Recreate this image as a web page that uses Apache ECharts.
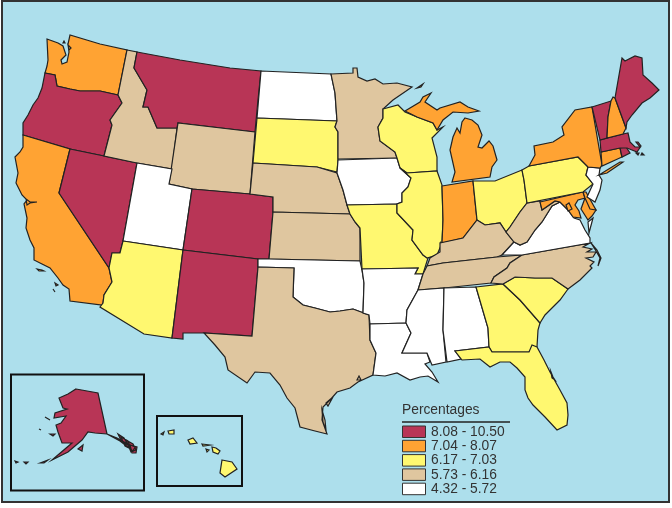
<!DOCTYPE html>
<html>
<head>
<meta charset="utf-8">
<title>Percentages by state</title>
<style>
html,body{margin:0;padding:0;background:#fff;}
#main{width:672px;height:508px;}
</style>
<script src="https://cdn.jsdelivr.net/npm/echarts@6/dist/echarts.min.js"></script>
</head>
<body>
<div id="main"></div>
<script>
/* values per state, estimated from the colour class of each state */
var stateNames = ['Oregon','Montana','Nevada','Colorado','New Mexico','Vermont','Maine','Massachusetts','Rhode Island','Alaska',
	'Washington','California','New York','New Hampshire','Connecticut','Michigan','Indiana','Maryland','Delaware','District of Columbia',
	'Arizona','South Dakota','Wisconsin','Illinois','Missouri','Ohio','Pennsylvania','Georgia','South Carolina','Florida','Hawaii',
	'Idaho','Wyoming','Nebraska','Kansas','Texas','Minnesota','Kentucky','Tennessee','North Carolina','West Virginia',
	'Utah','North Dakota','Iowa','Oklahoma','Arkansas','Louisiana','Mississippi','Alabama','Virginia','New Jersey'];
var stateValues = [8.9,8.5,9.2,8.3,8.6,8.4,9.6,8.2,10.5,8.8,
	7.6,7.3,7.5,7.2,7.4,7.8,7.1,7.7,7.3,8.0,
	6.6,6.3,6.8,6.9,6.5,6.7,6.4,6.2,6.6,6.9,6.3,
	5.9,5.8,6.0,5.9,6.1,6.0,5.8,5.9,6.0,5.8,
	5.2,4.9,5.4,5.5,5.1,5.6,4.6,5.3,5.7,4.32];
var classLabels = ['8.08 - 10.50','7.04 - 8.07','6.17 - 7.03','5.73 - 6.16','4.32 - 5.72'];
var classMin = [8.08,7.04,6.17,5.73,4.32];
var classMax = [10.50,8.07,7.03,6.16,5.72];
var classColors = ['#b83556','#ffa333','#fff870','#dfc69f','#ffffff'];

/* hand traced state outlines, flat x,y lists in page pixels, one list per island */
var outlines = {
	'Washington':[[47,39,58,43,63,46,66,55,61,60,62,64,67,62,69,52,68,44,70,35,100,44,127,50,118,95,100,91,80,91,70,89,57,86,55,75,45,73,47,66,48,60],[64,41,65,43,63,43],[68,45,71,48,69,50]],
	'Oregon':[[45,73,55,75,57,86,70,89,80,91,100,91,118,95,122,103,110,120,112,125,104,156,70,149,23,135,23,123,28,115,33,105,38,98,42,88]],
	'California':[[23,135,70,149,59,193,109,268,112,282,104,295,103,303,102,305,70,301,69,289,63,285,58,278,50,268,42,264,34,260,34,248,30,240,26,228,27,218,24,204,27,200,22,195,16,183,18,173,15,157,20,152,23,147],[37,269,42,270,44,271,39,271],[55,283,58,285,56,286],[53,289,55,292,54,293],[26,199,30,202,37,202,30,203,27,205]],
	'Nevada':[[70,149,104,156,137,163,123,241,120,253,112,253,109,268,59,193]],
	'Idaho':[[127,50,137,52,134,68,147,90,143,107,148,107,157,128,177,128,172,169,137,163,104,156,112,125,110,120,122,103,118,95]],
	'Montana':[[137,52,180,60,230,68,261,71,258,100,255,132,178,123,177,128,157,128,148,107,143,107,147,90,134,68]],
	'Wyoming':[[178,123,255,132,250,194,192,189,169,184]],
	'Utah':[[137,163,172,169,169,184,192,189,183,250,123,241]],
	'Colorado':[[192,189,250,194,273,197,273,212,269,259,258,259,183,250]],
	'Arizona':[[123,241,183,250,172,338,144,334,100,307,103,303,104,295,112,282,109,268,112,253,120,253]],
	'New Mexico':[[183,250,258,259,258,267,252,336,204,333,183,333,183,339,172,338]],
	'North Dakota':[[261,71,331,74,335,93,337,121,257,118]],
	'South Dakota':[[257,118,337,121,335,127,338,132,338,160,337,172,317,167,253,163]],
	'Nebraska':[[253,163,317,167,337,173,343,190,347,205,350,214,273,212,273,197,250,194]],
	'Kansas':[[273,212,350,214,355,222,360,228,360,261,269,259]],
	'Oklahoma':[[258,259,269,259,360,261,362,270,364,283,363,313,369,315,353,309,340,311,330,312,315,308,303,305,293,297,294,268,258,267]],
	'Texas':[[258,267,294,268,293,297,303,305,315,308,330,312,340,311,353,309,369,315,370,340,376,353,373,375,358,382,350,388,337,392,330,400,323,407,322,420,327,434,315,431,300,427,295,408,287,398,280,385,270,373,255,372,247,383,228,370,225,357,215,345,204,333,252,336],[359,376,361,380,357,380],[326,403,333,397,328,406],[322,410,325,420,326,430,323,422]],
	'Minnesota':[[331,74,353,73,353,68,357,68,358,77,367,81,375,79,383,84,397,83,412,87,393,100,383,109,383,118,378,127,380,141,395,152,397,158,338,159,338,132,335,127,337,121,335,93]],
	'Iowa':[[338,160,397,158,400,168,411,178,408,187,402,193,402,202,397,204,347,205,343,190,337,173]],
	'Missouri':[[347,205,397,204,397,213,413,230,412,240,423,255,428,258,423,274,415,274,418,268,362,269,360,228,355,222,350,214]],
	'Arkansas':[[362,269,418,268,415,274,423,274,418,290,407,310,406,323,370,324,369,315,363,313,364,283]],
	'Louisiana':[[370,324,406,323,411,333,402,353,427,353,430,362,425,364,432,372,438,382,428,376,420,377,410,380,397,373,385,376,373,375,376,353,370,340]],
	'Wisconsin':[[383,109,398,105,405,112,417,117,433,123,437,130,443,127,432,138,437,157,437,171,407,173,400,168,397,158,395,152,380,141,378,127,383,118]],
	'Illinois':[[407,173,437,171,442,185,443,220,442,243,437,255,427,258,423,255,412,240,413,230,397,213,397,204,402,202,402,193,408,187,411,178,400,168]],
	'Michigan':[[405,111,420,102,423,97,431,93,425,102,437,110,440,108,460,102,468,107,479,111,468,113,453,112,443,120,437,130,433,123,417,117],[465,118,472,120,478,125,482,135,478,147,482,148,489,141,493,146,497,160,492,167,490,177,452,182,455,172,450,150,453,137,457,128,460,133,462,122],[417,88,423,84,421,87]],
	'Indiana':[[442,186,473,181,477,220,463,238,443,243,440,242,442,243,443,220]],
	'Ohio':[[473,181,495,181,522,170,524,180,527,203,520,212,510,227,506,232,500,223,485,225,477,220]],
	'Kentucky':[[427,266,430,258,440,252,440,243,463,238,477,220,485,225,500,223,506,232,514,242,502,255,497,257,443,263]],
	'Tennessee':[[418,290,423,274,427,266,443,263,497,257,522,255,510,263,507,268,494,277,491,283,444,288]],
	'Mississippi':[[418,290,444,288,443,330,446,362,432,365,427,353,402,353,411,333,406,323,407,310]],
	'Alabama':[[444,288,476,287,488,328,489,347,455,351,461,359,447,362,443,330]],
	'Georgia':[[476,287,503,284,520,300,540,323,538,330,537,347,529,352,492,352,489,347,488,328]],
	'Florida':[[455,351,489,347,492,352,529,352,532,345,537,347,544,360,550,372,560,390,567,403,568,415,567,425,557,430,545,417,533,405,528,398,525,390,525,377,517,368,510,362,500,362,490,367,480,359,462,360],[551,372,553,377,555,380,552,378]],
	'South Carolina':[[503,284,515,277,535,278,552,278,568,289,560,300,545,315,540,323,520,300]],
	'North Carolina':[[590,243,583,247,592,249,587,252,596,252,593,257,586,258,594,262,590,266,592,268,580,280,568,289,552,278,535,278,515,277,503,284,491,283,494,277,507,268,510,263,522,255],[591,243,597,250,601,258,598,266,600,258,596,251]],
	'Virginia':[[502,255,514,242,520,245,527,242,535,230,542,222,552,206,560,202,568,210,574,218,580,220,585,230,590,238,590,243,522,255],[588,222,593,218,589,233]],
	'West Virginia':[[527,203,540,201,542,210,555,201,560,202,552,206,542,222,535,230,527,242,520,245,514,242,506,232,510,227,520,212]],
	'Maryland':[[540,202,583,192,585,198,578,200,575,205,579,211,581,218,573,217,568,210,560,202,555,201,542,210],[585,198,596,210,592,216,588,220,581,209]],
	'Delaware':[[583,192,586,192,596,210,590,209,585,198]],
	'District of Columbia':[[566,205,569,203,572,209,568,211]],
	'Pennsylvania':[[522,170,529,166,578,157,588,167,586,175,593,184,583,192,527,203,524,180]],
	'New Jersey':[[588,167,600,168,599,175,602,180,600,190,595,202,587,197,593,184,586,175]],
	'New York':[[529,166,535,155,534,146,553,142,564,135,562,127,575,110,592,107,602,165,600,168,588,167,578,157],[599,175,620,162,623,162,607,173]],
	'Connecticut':[[601,152,620,148,622,157,602,166]],
	'Rhode Island':[[620,148,626,147,630,153,622,157]],
	'Massachusetts':[[600,140,623,134,628,133,630,142,635,147,640,147,636,142,638,142,641,146,637,152,632,150,627,148,620,148,601,152],[636,153,639,153,638,155],[642,153,644,155,641,155]],
	'Vermont':[[592,107,611,101,608,117,607,138,600,140]],
	'New Hampshire':[[611,101,613,97,615,98,626,128,623,134,607,138,608,117]],
	'Maine':[[615,98,622,58,625,61,635,56,642,58,643,75,652,83,659,90,650,98,642,103,632,115,627,122,626,128]],
	'Alaska':[[76,389,98,393,107,434,117,438,126,443,135,447,133,451,120,441,107,434,95,433,88,432,82,440,68,452,52,460,72,443,62,443,58,432,56,425,61,423,66,416,54,418,55,413,67,409,63,408,59,398,68,394],[118,434,124,438,128,445,122,442],[121,437,128,441,131,449,125,446],[126,440,133,444,136,450,131,452],[130,445,137,447,136,453,132,453],[78,449,83,445,82,451],[45,417,50,420,49,421],[50,434,55,434,53,436],[39,429,41,430,40,431],[40,463,48,460,44,463],[24,462,28,462,26,464],[15,461,18,462,16,463]],
	'Hawaii':[[222,460,232,462,237,469,225,477,220,473],[212,447,216,448,220,451,218,454,213,452],[188,440,193,438,197,443,190,444],[168,431,174,430,174,434,169,434],[161,434,164,432,163,435],[202,444,210,445,203,446],[206,449,209,450,207,452]]
};

function buildGeo(){
	var features = [];
	for(var name in outlines){
		var polys = outlines[name].map(function(flat){
			var ring = [];
			for(var i=0;i<flat.length;i+=2){ ring.push([flat[i],flat[i+1]]); }
			ring.push(ring[0]);
			return [ring];
		});
		features.push({type:'Feature',properties:{name:name},geometry:{type:'MultiPolygon',coordinates:polys}});
	}
	return {type:'FeatureCollection',features:features};
}

echarts.registerMap('USA', buildGeo());

var seaColor = '#addfec';
var lineColor = '#222222';
var myChart = echarts.init(document.getElementById('main'));

var mapData = stateNames.map(function(n,i){ return {name:n,value:stateValues[i]}; });
var pieces = classLabels.map(function(l,i){ return {gte:classMin[i],lte:classMax[i],label:l,color:classColors[i]}; });

/* frame, inset boxes and the key */
var graphics = [
	{type:'rect',z:0,shape:{x:2,y:1,width:667,height:501},style:{fill:seaColor,stroke:'#333',lineWidth:2}},
	{type:'rect',z:0,shape:{x:11,y:374.5,width:133,height:116},style:{fill:'none',stroke:'#111',lineWidth:2}},
	{type:'rect',z:0,shape:{x:157,y:416,width:85,height:70},style:{fill:'none',stroke:'#111',lineWidth:2}},
	{type:'text',style:{x:402,y:410,text:'Percentages',fill:'#333',font:'13.8px "Liberation Sans"',textVerticalAlign:'middle'}},
	{type:'line',shape:{x1:402,y1:422,x2:510,y2:422},style:{stroke:'#222',lineWidth:1.5}}
];
classLabels.forEach(function(l,i){
	var rowY = 426 + i*14.3;
	graphics.push({type:'rect',shape:{x:402.5,y:rowY,width:23,height:11.5},style:{fill:classColors[i],stroke:'#333',lineWidth:1}});
	graphics.push({type:'text',style:{x:431,y:rowY+6,text:l,fill:'#333',font:'13.8px "Liberation Sans"',textVerticalAlign:'middle'}});
});

var option = {
	backgroundColor:'#ffffff',
	animation:false,
	visualMap:{show:false,type:'piecewise',pieces:pieces,seriesIndex:0},
	graphic:graphics,
	series:[
		{
			type:'map',
			map:'USA',
			silent:true,
			z:5,
			left:0,top:0,width:672,height:508,
			boundingCoords:[[0,0],[672,508]],
			projection:{
				project:function(p){ return p; },
				unproject:function(p){ return p; }
			},
			label:{show:false},
			emphasis:{disabled:true},
			itemStyle:{borderColor:lineColor,borderWidth:1.2,areaColor:'#fff'},
			data:mapData
		}
	]
};
myChart.setOption(option);
</script>
</body>
</html>
